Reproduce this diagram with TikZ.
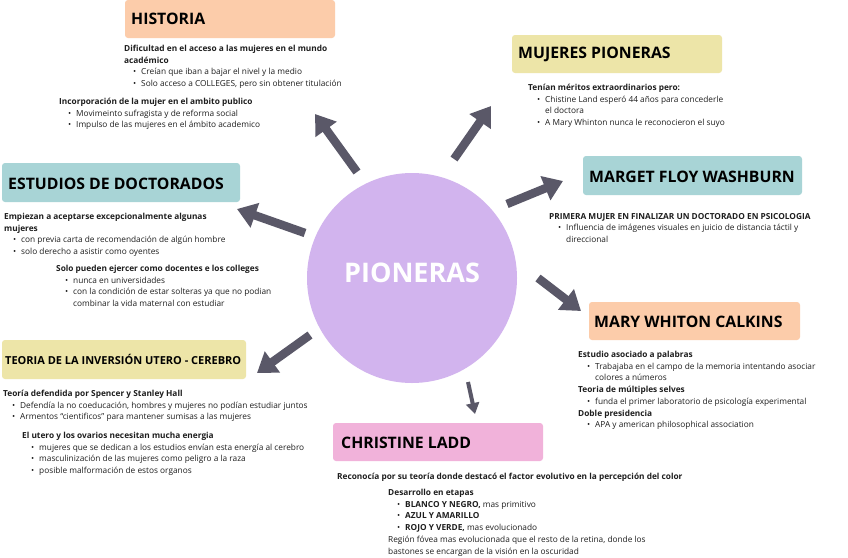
\documentclass[tikz,border=0pt]{standalone}
\usepackage{fontspec}
\setmainfont{Open Sans}
\usetikzlibrary{arrows.meta}
\definecolor{peach}{RGB}{252,204,170}
\definecolor{khaki}{RGB}{237,229,168}
\definecolor{tealb}{RGB}{168,212,214}
\definecolor{pinkb}{RGB}{241,178,218}
\definecolor{lilac}{RGB}{210,180,238}
\definecolor{arrowc}{RGB}{90,88,104}
\definecolor{txt}{RGB}{30,30,30}
\newcommand{\bl}[1]{\hspace*{9pt}\makebox[8pt][l]{\textbullet}#1}
\newcommand{\cl}[1]{\hspace*{17pt}#1}
\tikzset{
  headbox/.style={fill=#1, rounded corners=3pt, draw=none},
  headtxt/.style={anchor=west, inner sep=0pt, font=\fontsize{15.8}{18}\bfseries\selectfont, text=black},
  body/.style={anchor=north west, inner sep=0pt, align=left, text=txt, font=\fontsize{8.3}{11.7}\selectfont},
  bigarrow/.style={draw=arrowc, line width=8.5pt, -{Triangle[width=25pt,length=19pt]}},
  smallarrow/.style={draw=arrowc, line width=4pt, -{Triangle[width=13pt,length=11pt]}},
}
\begin{document}
\begin{tikzpicture}[x=1pt,y=-1pt]
\useasboundingbox (0,0) rectangle (848,557);
\fill[white] (0,0) rectangle (848,557);
% centre
\node[circle, fill=lilac, minimum size=210pt, inner sep=0pt] (c) at (412,278) {};
\node[text=white, font=\fontsize{27}{30}\bfseries\selectfont] (ct) at (412,273) {PIONERAS};
% boxes
\fill[headbox=peach] (125,0) rectangle (335,38);
\node[headtxt] (h1) at (131,19) {HISTORIA};
\fill[headbox=khaki] (512,35) rectangle (722,73);
\node[headtxt] (h2) at (518,54) {MUJERES PIONERAS};
\fill[headbox=tealb] (2,163) rectangle (240,202);
\node[headtxt] (h3) at (8,184) {ESTUDIOS DE DOCTORADOS};
\fill[headbox=tealb] (583,156) rectangle (802,195);
\node[headtxt] (h4) at (589,177) {MARGET FLOY WASHBURN};
\fill[headbox=peach] (589,302) rectangle (800,340);
\node[headtxt] (h5) at (594,322) {MARY WHITON CALKINS};
\fill[headbox=khaki] (2,340) rectangle (246,379);
\node[headtxt, font=\fontsize{11}{13}\bfseries\selectfont] (h6) at (5,359) {TEORIA DE LA INVERSIÓN UTERO - CEREBRO};
\fill[headbox=pinkb] (333,423) rectangle (543,461);
\node[headtxt] (h7) at (341,443) {CHRISTINE LADD};
% texts
\node[body] (b1) at (124,45) {\textbf{Dificultad en el acceso a las mujeres en el mundo}\\
\textbf{académico}\\
\bl{Creían que iban a bajar el nivel y la medio}\\
\bl{Solo acceso a COLLEGES, pero sin obtener titulación}};
\node[body] (b2) at (59,98) {\textbf{Incorporación de la mujer en el ambito publico}\\
\bl{Movimeinto sufragista y de reforma social}\\
\bl{Impulso de las mujeres en el ámbito academico}};
\node[body] (b3) at (528,84) {\textbf{Tenían méritos extraordinarios pero:}\\
\bl{Chistine Land esperó 44 años para concederle}\\
\cl{el doctora}\\
\bl{A Mary Whinton nunca le reconocieron el suyo}};
\node[body] (b4) at (4,213) {\textbf{Empiezan a aceptarse excepcionalmente algunas}\\
\textbf{mujeres}\\
\bl{con previa carta de recomendación de algún hombre}\\
\bl{solo derecho a asistir como oyentes}};
\node[body] (b5) at (56,265) {\textbf{Solo pueden ejercer como docentes e los colleges}\\
\bl{nunca en universidades}\\
\bl{con la condición de estar solteras ya que no podian}\\
\cl{combinar la vida maternal con estudiar}};
\node[body] (b6) at (549,213) {\textbf{PRIMERA MUJER EN FINALIZAR UN DOCTORADO EN PSICOLOGIA}\\
\bl{Influencia de imágenes visuales en juicio de distancia táctil y}\\
\cl{direccional}};
\node[body] (b7) at (578,351) {\textbf{Estudio asociado a palabras}\\
\bl{Trabajaba en el campo de la memoria intentando asociar}\\
\cl{colores a números}\\
\textbf{Teoria de múltiples selves}\\
\bl{funda el primer laboratorio de psicología experimental}\\
\textbf{Doble presidencia}\\
\bl{APA y american philosophical association}};
\node[body] (b8) at (3,390) {\textbf{Teoría defendida por Spencer y Stanley Hall}\\
\bl{Defendía la no coeducación, hombres y mujeres no podían estudiar juntos}\\
\bl{Armentos ``cientificos'' para mantener sumisas a las mujeres}};
\node[body] (b9) at (22,432) {\textbf{El utero y los ovarios necesitan mucha energia}\\
\bl{mujeres que se dedican a los estudios envían esta energía al cerebro}\\
\bl{masculinización de las mujeres como peligro a la raza}\\
\bl{posible malformación de estos organos}};
\node[body] (b10) at (337,473) {\textbf{Reconocía por su teoría donde destacó el factor evolutivo en la percepción del color}};
\node[body] (b11) at (388,489) {\textbf{Desarrollo en etapas}\\
\bl{\textbf{BLANCO Y NEGRO,} mas primitivo}\\
\bl{\textbf{AZUL Y AMARILLO}}\\
\bl{\textbf{ROJO Y VERDE,} mas evolucionado}\\
Región fóvea mas evolucionada que el resto de la retina, donde los\\
bastones se encargan de la visión en la oscuridad};
% arrows
\coordinate (a1s) at (357,172); \coordinate (a1e) at (315,114);
\coordinate (a2s) at (454,159); \coordinate (a2e) at (491,106);
\coordinate (a3s) at (507,204); \coordinate (a3e) at (563,181);
\coordinate (a4s) at (538,278); \coordinate (a4e) at (581,311);
\coordinate (a5s) at (468,382); \coordinate (a5e) at (475,414);
\coordinate (a6s) at (310,335); \coordinate (a6e) at (257,373);
\coordinate (a7s) at (305,233); \coordinate (a7e) at (237,209);
\draw[bigarrow] (a1s) -- (a1e);
\draw[bigarrow] (a2s) -- (a2e);
\draw[bigarrow] (a3s) -- (a3e);
\draw[bigarrow] (a4s) -- (a4e);
\draw[smallarrow] (a5s) -- (a5e);
\draw[bigarrow] (a6s) -- (a6e);
\draw[bigarrow] (a7s) -- (a7e);
\end{tikzpicture}
\end{document}
